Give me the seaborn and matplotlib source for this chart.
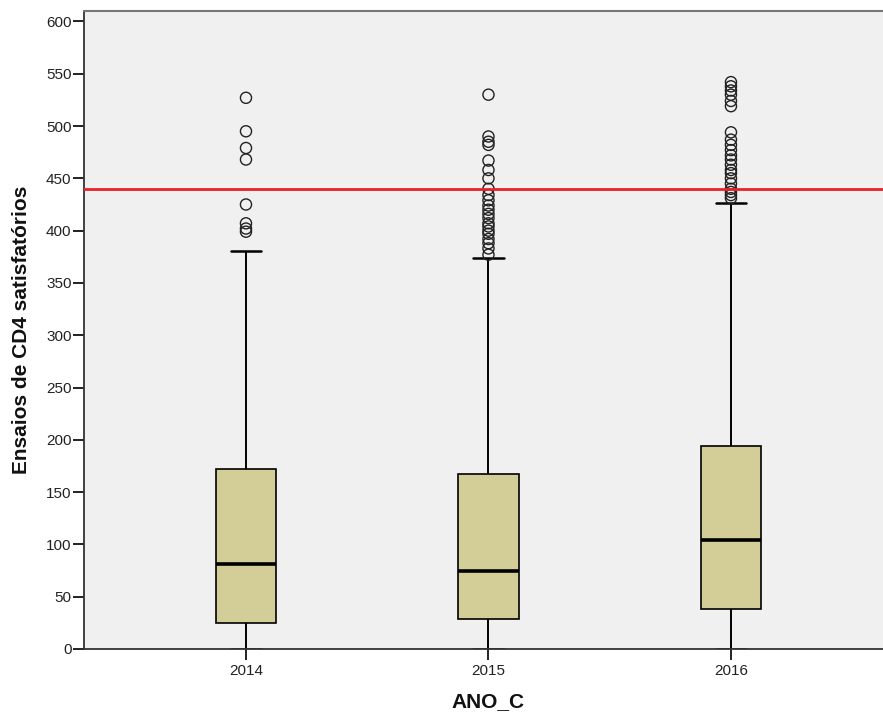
import matplotlib
matplotlib.use("Agg")
import matplotlib.pyplot as plt
import seaborn as sns
import pandas as pd

# ---- data ----
years = ["2014", "2015", "2016"]
whisker_low = [0, 0, 0]
q1 = [24.5, 28.5, 38.5]
median = [81.5, 74.5, 104.5]
q3 = [172.5, 167.5, 194.0]
whisker_high = [381, 374, 426]
reference_value = 440

outliers_2014 = [527, 495, 479, 468, 425, 407, 402, 399]
outliers_2015 = [530, 490, 485, 482, 467, 458, 450, 440, 434, 429, 424, 420,
                 416, 412, 407, 404, 400, 397, 392, 388, 383, 377]
outliers_2016 = [542, 538, 534, 530, 524, 519, 494, 487, 482, 477, 472, 468,
                 463, 458, 455, 450, 445, 440, 437, 434, 431]
y_ticks = list(range(0, 601, 50))

# ---- tables for seaborn ----
box_rows = []
for i, yr in enumerate(years):
    for v in (whisker_low[i], q1[i], median[i], q3[i], whisker_high[i]):
        box_rows.append({"ANO_C": yr, "valor": v})
box_df = pd.DataFrame(box_rows)

out_rows = []
for yr, vals in zip(years, [outliers_2014, outliers_2015, outliers_2016]):
    for v in vals:
        out_rows.append({"ANO_C": yr, "valor": v})
out_df = pd.DataFrame(out_rows)

sns.set_style("white")
plt.rcParams["font.family"] = ["Liberation Sans", "DejaVu Sans"]

fig = plt.figure(figsize=(8.83, 7.13), dpi=100)
ax = fig.add_axes([84 / 883, 64 / 713, 799 / 883, 638 / 713])
ax.set_facecolor("#F0F0F0")

sns.boxplot(data=box_df, x="ANO_C", y="valor", order=years, ax=ax,
            whis=(0, 100), width=0.25, color="#D3CE97", saturation=1,
            linecolor="black", linewidth=1.2, fliersize=0,
            medianprops={"linewidth": 2.6, "color": "black"},
            whiskerprops={"linewidth": 1.4}, capprops={"linewidth": 1.8})

sns.stripplot(data=out_df, x="ANO_C", y="valor", order=years, ax=ax,
              jitter=False, color="none", edgecolor="#222222", linewidth=1.0,
              size=8, marker="o")

ax.axhline(reference_value, color="#E8232B", linewidth=2.0, zorder=5)

ax.set_xlim(-0.668, 2.627)
ax.set_ylim(0, 610)
ax.set_yticks(y_ticks)
ax.set_yticklabels([str(t) for t in y_ticks])

ax.set_xlabel("ANO_C", fontsize=15, fontweight="bold", color="#111111")
ax.set_ylabel("Ensaios de CD4 satisfatórios", fontsize=15, fontweight="bold",
              color="#111111")
ax.xaxis.set_label_coords((488 - 84) / 799, (649 - 692) / 638)
ax.yaxis.set_label_coords((31 - 84) / 799, 0.5)

ax.tick_params(axis="both", direction="out", length=8, width=1.4, color="#222222",
               labelsize=11, labelcolor="#222222", left=True, bottom=True)
ax.tick_params(axis="y", pad=1)
ax.tick_params(axis="x", pad=3)

for side in ["left", "bottom"]:
    ax.spines[side].set_visible(True)
    ax.spines[side].set_color("#333333")
    ax.spines[side].set_linewidth(1.3)
ax.spines["top"].set_visible(True)
ax.spines["top"].set_color("#777777")
ax.spines["top"].set_linewidth(1.5)
ax.spines["right"].set_visible(False)

fig.savefig("out.png", dpi=100)
